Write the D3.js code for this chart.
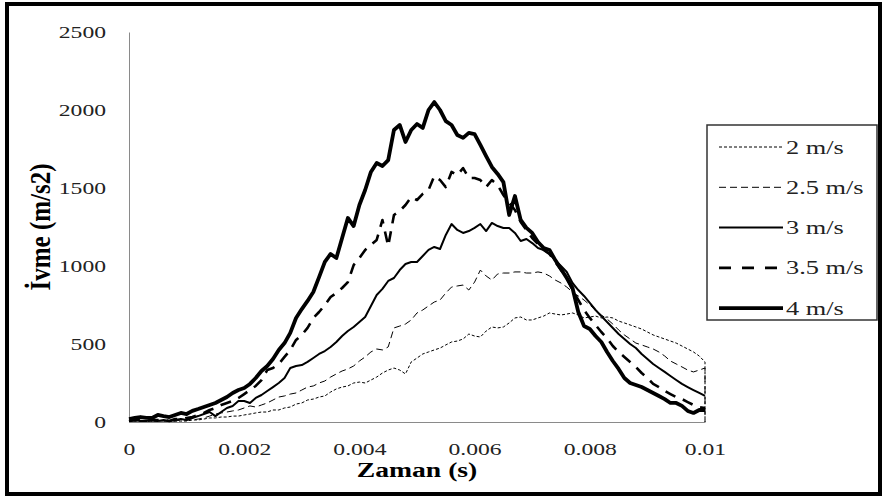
<!DOCTYPE html>
<html>
<head>
<meta charset="utf-8">
<script src="https://cdnjs.cloudflare.com/ajax/libs/d3/7.8.5/d3.min.js"></script>
<style>
	body { margin: 0; background: #fff; }
	svg { display: block; }
</style>
</head>
<body>
<svg id="chart" width="885" height="498"></svg>
<script>

// sample times, 0.0001 s apart (0 .. 0.01 s)
var time = d3.range(101).map(function(i) {return i / 10000})
time.push(0.01)

var x_ticks = [0, 0.002, 0.004, 0.006, 0.008, 0.01]
var x_tick_labels = ["0", "0.002", "0.004", "0.006", "0.008", "0.01"]
var y_ticks = [0, 500, 1000, 1500, 2000, 2500]

var speeds = ["2 m/s", "2.5 m/s", "3 m/s", "3.5 m/s", "4 m/s"]

// acceleration (m/s2)
var ivme_2 = [6,6,6,6,6,6,6,6,6,6, 6,13,13,19,26,26,32,32,38,38,
	45,51,58,64,64,77,77,90,96,115, 122,141,147,160,167,192,212,224,231,250,
	256,250,269,288,314,333,346,333,308,385, 410,436,449,462,474,494,513,519,532,564,
	551,545,583,609,603,609,635,667,673,654, 654,667,679,699,692,686,692,699,686,667,
	673,679,667,673,667,647,635,622,609,596, 577,558,545,532,519,506,487,468,449,423,385, 0]

var ivme_25 = [6,6,6,6,6,6,6,6,6,13, 13,13,19,26,38,51,58,64,71,77,
	90,103,96,109,122,141,160,167,179,186, 205,224,231,250,263,288,308,327,340,359,
	391,417,449,468,462,481,603,615,628,654, 699,718,744,769,782,827,865,872,878,846,
	897,974,936,910,949,955,955,962,962,955, 955,962,955,936,910,891,865,833,808,782,
	750,718,686,660,628,590,558,532,506,494, 481,468,449,423,391,372,353,333,321,333,346, 0]

var ivme_3 = [6,13,6,6,13,6,13,6,13,19, 13,26,38,51,64,38,64,90,103,135,
	135,122,154,173,199,224,250,282,346,359, 365,385,410,436,455,481,513,551,583,609,
	641,673,744,814,853,904,923,974,1013,1026, 1026,1064,1103,1122,1109,1199,1269,1231,1212,1224,
	1244,1269,1224,1276,1256,1244,1244,1212,1160,1173, 1147,1115,1103,1077,1038,1000,962,891,846,808,
	763,718,679,641,603,564,532,500,474,436, 404,372,346,321,295,269,244,224,205,186,167]

var ivme_35 = [6,13,13,6,13,13,13,6,19,19, 26,32,45,58,77,90,109,122,135,154,
	179,205,231,269,333,346,372,417,462,526, 558,603,667,705,750,801,827,859,897,1006,
	1051,1103,1135,1167,1295,1128,1327,1353,1391,1442, 1423,1462,1487,1577,1551,1506,1603,1583,1628,1564,
	1564,1551,1506,1551,1519,1455,1404,1359,1282,1231, 1179,1141,1103,1077,1026,974,923,846,782,718,
	667,622,577,538,487,449,417,385,353,314, 282,244,224,199,179,160,147,128,109,96,90]

var ivme_4 = [19,26,32,26,26,45,38,32,45,58, 51,71,83,96,109,122,141,160,186,205,
	218,244,282,327,359,404,462,506,571,667, 724,776,833,929,1026,1077,1051,1179,1308,1256,
	1391,1487,1603,1660,1641,1679,1872,1904,1795,1872, 1910,1885,2000,2051,2000,1929,1904,1840,1821,1853,
	1846,1776,1705,1635,1590,1538,1327,1449,1295,1244, 1212,1154,1115,1103,1038,981,923,859,705,615,
	596,551,513,449,391,340,282,250,237,224, 205,186,167,147,122,122,103,71,58,77,77]

var series = [ivme_2, ivme_25, ivme_3, ivme_35, ivme_4]

// line looks, same order as speeds
var line_widths = [1, 1, 2, 2.6, 3.8]
var line_dashes = ["3,2", "7,4", null, "11,8", null]
var legend_dashes = ["3,2", "7,4", null, "12,11", null]

var serif = "Liberation Serif, Times New Roman, serif"
// the picture is stretched sideways, so is the text
var text_stretch = 1.35

var svg = d3.select("#chart")

var x = d3.scaleLinear().domain([0, 0.01]).range([129, 705])
var y = d3.scaleLinear().domain([0, 2500]).range([422, 32])

// outer frame
svg.append("rect")
	.attr("x", 7).attr("y", 4)
	.attr("width", 873).attr("height", 490)
	.attr("fill", "white")
	.attr("stroke", "black")
	.attr("stroke-width", 4)

var y_axis = d3.axisLeft(y).tickValues(y_ticks).tickSize(0).tickPadding(0)
	.tickFormat(d3.format("d"))
var y_axis_g = svg.append("g")
	.attr("transform", "translate(129,0)")
	.call(y_axis)
	.attr("font-family", serif)
	.attr("font-size", 17.5)
y_axis_g.select(".domain").attr("stroke", "#8a8a8a")
y_axis_g.selectAll("text")
	.attr("x", -23 / text_stretch)
	.attr("fill", "#222")
	.attr("transform", "scale(" + text_stretch + ",1)")

var x_axis = d3.axisBottom(x).tickValues(x_ticks).tickSize(0).tickPadding(0)
	.tickFormat(function(d, i) {return x_tick_labels[i]})
var x_axis_g = svg.append("g")
	.attr("transform", "translate(0,422)")
	.call(x_axis)
	.attr("font-family", serif)
	.attr("font-size", 17.5)
x_axis_g.select(".domain").attr("stroke", "#8a8a8a")
x_axis_g.selectAll("text")
	.attr("y", 33)
	.attr("dy", 0)
	.attr("fill", "#222")
	.attr("transform", "scale(" + text_stretch + ",1)")

// axis titles
svg.append("text")
	.attr("transform", "translate(417,477) scale(" + text_stretch + ",1)")
	.attr("text-anchor", "middle")
	.attr("font-family", serif)
	.attr("font-weight", "bold")
	.attr("font-size", 20.5)
	.text("Zaman (s)")

svg.append("text")
	.attr("transform", "translate(50,227) scale(1.2,1) rotate(-90)")
	.attr("text-anchor", "middle")
	.attr("font-family", serif)
	.attr("font-weight", "bold")
	.attr("font-size", 25)
	.text("İvme (m/s2)")

// data lines
var line = d3.line()
	.x(function(d, i) {return x(time[i])})
	.y(function(d) {return y(d)})

svg.append("g").selectAll(".ivme_line")
	.data(series)
	.enter()
	.append("path")
	.attr("class", "ivme_line")
	.attr("d", line)
	.attr("fill", "none")
	.attr("stroke", "black")
	.attr("stroke-width", function(d, i) {return line_widths[i]})
	.attr("stroke-dasharray", function(d, i) {return line_dashes[i]})
	.attr("stroke-linejoin", "round")

// legend
var legend = svg.append("g")
legend.append("rect")
	.attr("x", 707).attr("y", 125)
	.attr("width", 170).attr("height", 195)
	.attr("fill", "white")
	.attr("stroke", "#333")
	.attr("stroke-width", 1.5)

var legend_rows = legend.selectAll(".legend_row")
	.data(speeds)
	.enter()
	.append("g")
	.attr("class", "legend_row")
	.attr("transform", function(d, i) {return "translate(0," + (147 + i * 40.3) + ")"})

legend_rows.append("line")
	.attr("x1", 719).attr("x2", 783)
	.attr("y1", 0).attr("y2", 0)
	.attr("stroke", "black")
	.attr("stroke-width", function(d, i) {return line_widths[i]})
	.attr("stroke-dasharray", function(d, i) {return legend_dashes[i]})

legend_rows.append("text")
	.attr("transform", "translate(786,6.5) scale(" + text_stretch + ",1)")
	.attr("font-family", serif)
	.attr("font-size", 19.5)
	.attr("fill", "#222")
	.text(function(d) {return d})

</script>
</body>
</html>
